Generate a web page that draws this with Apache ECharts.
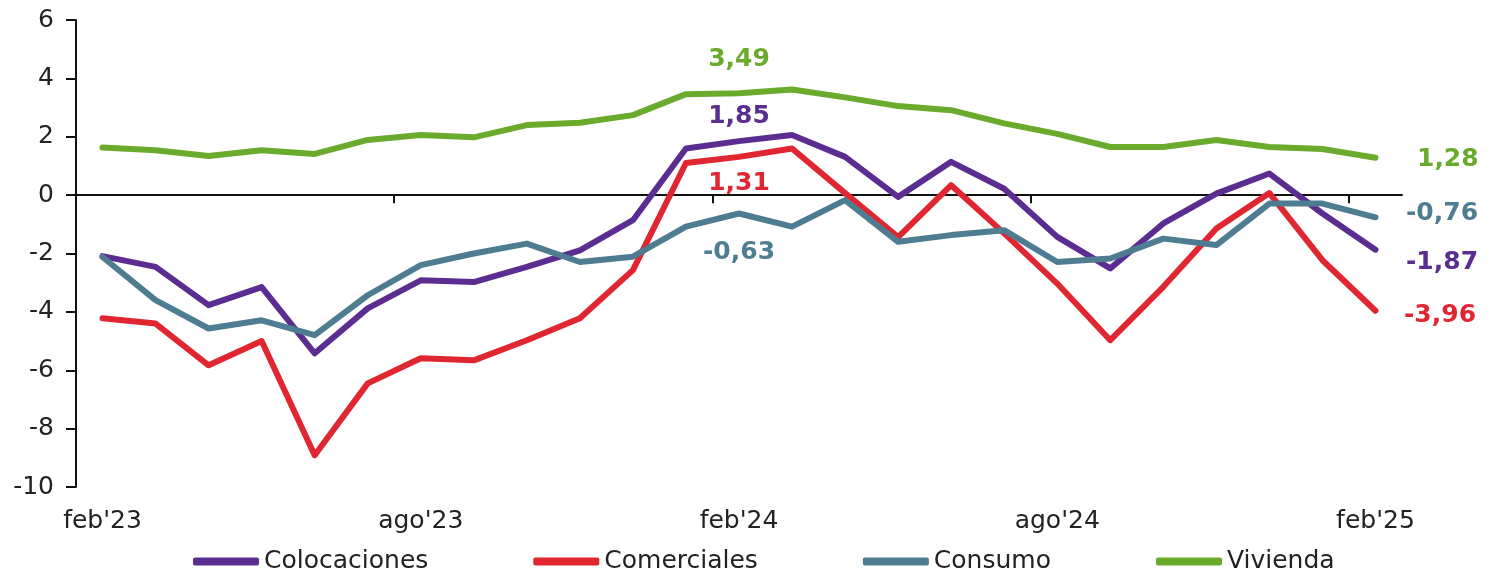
<!DOCTYPE html>
<html>
<head>
<meta charset="utf-8">
<script src="https://cdn.jsdelivr.net/npm/echarts@6/dist/echarts.min.js"></script>
<style>
  html, body { margin: 0; padding: 0; background: #fff; }
  #chart { width: 1500px; height: 571px; }
</style>
</head>
<body>
<div id="chart"></div>
<script>
// meses feb'23 .. feb'25
var months = ["feb'23", "mar'23", "abr'23", "may'23", "jun'23", "jul'23", "ago'23", "sep'23", "oct'23", "nov'23", "dic'23", "ene'24",
  "feb'24", "mar'24", "abr'24", "may'24", "jun'24", "jul'24", "ago'24", "sep'24", "oct'24", "nov'24", "dic'24", "ene'25", "feb'25"]

var colocaciones = [-2.09, -2.46, -3.77, -3.15, -5.42, -3.88, -2.92, -2.98, -2.46, -1.89, -0.86, 1.60,
  1.85, 2.06, 1.31, -0.06, 1.14, 0.22, -1.43, -2.51, -0.97, 0.05, 0.74, -0.63, -1.87]
var comerciales = [-4.22, -4.40, -5.83, -5.00, -8.91, -6.45, -5.59, -5.66, -4.97, -4.22, -2.57, 1.10,
  1.31, 1.60, 0.07, -1.44, 0.34, -1.31, -3.03, -4.97, -3.14, -1.14, 0.07, -2.23, -3.96]
var consumo = [-2.12, -3.60, -4.57, -4.29, -4.80, -3.43, -2.40, -2.00, -1.66, -2.29, -2.11, -1.08,
  -0.63, -1.08, -0.17, -1.60, -1.37, -1.20, -2.29, -2.17, -1.49, -1.71, -0.29, -0.29, -0.76]
var vivienda = [1.63, 1.54, 1.34, 1.54, 1.41, 1.89, 2.06, 1.98, 2.40, 2.48, 2.74, 3.46,
  3.49, 3.62, 3.35, 3.05, 2.91, 2.46, 2.10, 1.65, 1.65, 1.89, 1.65, 1.58, 1.28]

// marcas del eje en el limite entre meses (ago'23, feb'24, ago'24, feb'25)
var tickPos = [5.5, 11.5, 17.5, 23.5]

var FONT = 'DejaVu Sans'
var midIdx = 12, lastIdx = 24

function fmt (v) {
  return v.toFixed(2).replace('.', ',')
}

function lineSeries (name, values, color) {
  return {
    name: name,
    type: 'line',
    xAxisIndex: 1,
    data: values,
    symbol: 'none',
    color: color,
    lineStyle: { width: 6, color: color, cap: 'round', join: 'round' },
    emphasis: { disabled: true }
  }
}

// etiquetas de feb'24 y feb'25 en una serie aparte
function labelSeries (name, values, color, midLabel, endLabel) {
  var data = values.map(function (v, i) {
    if (i === midIdx) return { value: v, label: midLabel }
    if (i === lastIdx) return { value: v, label: endLabel }
    return '-'
  })
  return {
    name: name + '_lbl',
    type: 'scatter',
    xAxisIndex: 1,
    data: data,
    symbolSize: 1,
    itemStyle: { color: 'rgba(0,0,0,0)', opacity: 1 },
    label: {
      show: true,
      color: color,
      fontFamily: FONT,
      fontWeight: 'bold',
      fontSize: 25,
      formatter: function (p) { return fmt(p.value) }
    },
    silent: true,
    z: 5
  }
}

var chart = echarts.init(document.getElementById('chart'))

var opt = {
  animation: false,
  grid: { left: 76, right: 98, top: 20, bottom: 84 },
  legend: {
    left: 188,
    top: 544,
    icon: 'roundRect',
    itemWidth: 66,
    itemHeight: 8,
    itemGap: 105,
    textStyle: { fontFamily: FONT, fontSize: 25, color: '#222' },
    data: ['Colocaciones', 'Comerciales', 'Consumo', 'Vivienda']
  },
  xAxis: [{
    // linea del cero con sus marcas
    type: 'value',
    min: -0.5,
    max: 24.5,
    axisLine: { onZero: true, lineStyle: { color: '#111', width: 2 } },
    axisTick: { show: true, customValues: tickPos, length: 8, lineStyle: { color: '#111', width: 2 } },
    axisLabel: { show: false },
    splitLine: { show: false }
  }, {
    type: 'category',
    data: months,
    position: 'bottom',
    boundaryGap: true,
    axisLine: { show: false, onZero: false },
    axisTick: { show: false },
    axisLabel: { interval: 5, margin: 22, fontFamily: FONT, fontSize: 25, color: '#222' },
    splitLine: { show: false }
  }],
  yAxis: {
    type: 'value',
    min: -10,
    max: 6,
    interval: 2,
    axisLine: { show: true, onZero: false, lineStyle: { color: '#111', width: 2 } },
    axisTick: { show: true, length: 10, lineStyle: { color: '#111', width: 2 } },
    axisLabel: { margin: 22, fontFamily: FONT, fontSize: 25, color: '#222' },
    splitLine: { show: false }
  },
  series: [
    lineSeries('Colocaciones', colocaciones, '#5b2d90'),
    lineSeries('Comerciales', comerciales, '#e02630'),
    lineSeries('Consumo', consumo, '#4e7c90'),
    lineSeries('Vivienda', vivienda, '#6aab2e'),
    labelSeries('Colocaciones', colocaciones, '#5b2d90',
      { position: 'top', distance: 12 },
      { position: 'right', distance: 30, offset: [0, 13] }),
    labelSeries('Comerciales', comerciales, '#e02630',
      { position: 'bottom', distance: 14 },
      { position: 'right', distance: 28, offset: [0, 5] }),
    labelSeries('Consumo', consumo, '#4e7c90',
      { position: 'bottom', distance: 26 },
      { position: 'right', distance: 30, offset: [0, -4] }),
    labelSeries('Vivienda', vivienda, '#6aab2e',
      { position: 'top', distance: 21 },
      { position: 'right', distance: 41, offset: [0, 2] })
  ]
}

chart.setOption(opt)
</script>
</body>
</html>
